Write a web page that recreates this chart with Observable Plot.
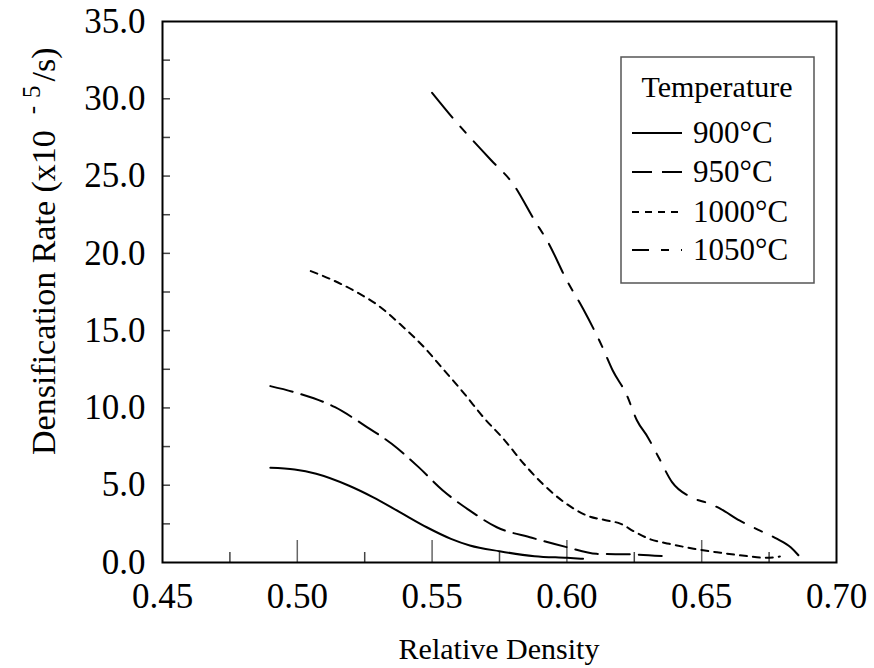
<!DOCTYPE html>
<html><head><meta charset="utf-8">
<script src="https://cdn.jsdelivr.net/npm/d3@7"></script>
<script src="https://cdn.jsdelivr.net/npm/@observablehq/plot@0.6"></script>
<style>body{margin:0;background:#fff} svg{display:block}</style>
</head><body><div id="chart"></div>
<script>
const series = ["900°C", "950°C", "1000°C", "1050°C"];

const x900 = [0.490, 0.499, 0.507, 0.519, 0.528, 0.538, 0.548, 0.557, 0.564, 0.575, 0.588, 0.600, 0.606];
const y900 = [6.13, 6.02, 5.74, 4.98, 4.23, 3.26, 2.28, 1.53, 1.10, 0.73, 0.41, 0.30, 0.24];

const x950 = [0.490, 0.501, 0.514, 0.525, 0.535, 0.545, 0.554, 0.564, 0.574, 0.587, 0.600, 0.611, 0.625, 0.636];
const y950 = [11.41, 10.91, 10.05, 8.86, 7.68, 6.17, 4.66, 3.36, 2.28, 1.60, 0.99, 0.56, 0.52, 0.41];

const x1000 = [0.505, 0.512, 0.522, 0.530, 0.538, 0.547, 0.554, 0.562, 0.569, 0.577, 0.584, 0.591, 0.599, 0.608, 0.614, 0.620, 0.625, 0.631, 0.638, 0.647, 0.657, 0.667, 0.674, 0.679];
const y1000 = [18.85, 18.36, 17.49, 16.63, 15.44, 13.93, 12.53, 10.91, 9.40, 7.89, 6.39, 5.09, 3.90, 3.00, 2.75, 2.50, 2.00, 1.50, 1.21, 0.89, 0.63, 0.41, 0.30, 0.39];

const x1050 = [0.550, 0.559, 0.572, 0.580, 0.588, 0.593, 0.600, 0.606, 0.613, 0.617, 0.622, 0.626, 0.630, 0.634, 0.639, 0.646, 0.653, 0.657, 0.664, 0.671, 0.678, 0.683, 0.687];
const y1050 = [30.39, 28.49, 26.01, 24.50, 22.13, 20.72, 18.24, 16.41, 14.00, 12.42, 10.91, 9.19, 8.11, 6.81, 5.20, 4.23, 3.80, 3.47, 2.72, 2.11, 1.53, 0.99, 0.24];

const xValues = [x900, x950, x1000, x1050];
const yValues = [y900, y950, y1000, y1050];

const xTicks = [0.45, 0.50, 0.55, 0.60, 0.65, 0.70];
const xMinorTicks = [0.475, 0.525, 0.575, 0.625, 0.675];
const yTicks = [0, 5, 10, 15, 20, 25, 30, 35];
const yMinorTicks = [2.5, 5, 7.5, 10, 12.5, 15, 17.5, 20, 22.5, 25, 27.5, 30, 32.5];

const dashes = [null, "23,9", "7,6", "32,12,8,12"];

const W = 874, H = 668, mL = 162, mR = 38, mT = 21, mB = 106;
const pw = W - mL - mR, ph = H - mT - mB;
const FONT = "'Liberation Serif', 'Times New Roman', serif";

const rows = series.flatMap((s, i) => xValues[i].map((x, j) => ({s, x, y: yValues[i][j]})));

const plot = Plot.plot({
  width: W, height: H,
  marginLeft: mL, marginRight: mR, marginTop: mT, marginBottom: mB,
  x: {domain: [0.45, 0.70]},
  y: {domain: [0, 35]},
  style: {fontFamily: FONT, fontSize: "35px", color: "black", background: "white"},
  marks: [
    Plot.tickY(yMinorTicks, {y: d => d, insetRight: pw - 8, stroke: "#444", strokeWidth: 1.5}),
    Plot.tickX(xTicks.slice(1, -1), {x: d => d, insetTop: ph - 22, stroke: "#666", strokeWidth: 1.5}),
    Plot.tickX(xMinorTicks, {x: d => d, insetTop: ph - 10, stroke: "#444", strokeWidth: 1.5}),
    ...series.map((s, i) => Plot.line(rows.filter(r => r.s === s), {
      x: "x", y: "y", stroke: "black", strokeWidth: 2,
      strokeDasharray: dashes[i] || undefined, curve: "monotone-x"
    })),
    Plot.axisX({ticks: xTicks, tickFormat: d3.format(".2f"), tickSize: 0, tickPadding: 21, label: null, fontSize: 35}),
    Plot.axisY({ticks: yTicks, tickFormat: d3.format(".1f"), tickSize: 0, tickPadding: 17, label: null, fontSize: 35}),
    Plot.frame({stroke: "black", strokeWidth: 2})
  ]
});

const svg = d3.select(plot);

// x-axis title
svg.append("text")
  .attr("x", mL + pw / 2).attr("y", 659)
  .attr("text-anchor", "middle")
  .attr("font-family", FONT).attr("font-size", 30).attr("fill", "black")
  .text("Relative Density");

// y-axis title with superscript
const yt = svg.append("text")
  .attr("transform", "translate(55,455) rotate(-90)")
  .attr("text-anchor", "start")
  .attr("font-family", FONT).attr("font-size", 34).attr("fill", "black");
yt.append("tspan").text("Densification Rate (x10");
yt.append("tspan").attr("dx", 16).attr("dy", -15).attr("font-size", 25).text("-");
yt.append("tspan").attr("dx", 8).attr("font-size", 25).text("5");
yt.append("tspan").attr("dx", 4).attr("dy", 15).text("/s)");

// legend
const lg = svg.append("g").attr("text-anchor", "start");
lg.append("rect").attr("x", 621).attr("y", 57).attr("width", 193).attr("height", 226)
  .attr("fill", "white").attr("stroke", "#555").attr("stroke-width", 1.5);
lg.append("text").attr("x", 717).attr("y", 97).attr("text-anchor", "middle")
  .attr("font-family", FONT).attr("font-size", 30).attr("fill", "black").text("Temperature");
const ys = [133, 172, 212, 250];
series.forEach((s, i) => {
  lg.append("line").attr("x1", 632).attr("x2", 682).attr("y1", ys[i]).attr("y2", ys[i])
    .attr("stroke", "black").attr("stroke-width", 2)
    .attr("stroke-dasharray", i === 3 ? "17,12,8,12" : (i === 1 ? "20,10" : dashes[i]));
  lg.append("text").attr("x", 693).attr("y", ys[i] + 10).attr("text-anchor", "start")
    .attr("font-family", FONT).attr("font-size", 31).attr("fill", "black").text(s);
});

document.getElementById("chart").appendChild(plot);
</script>
</body></html>
